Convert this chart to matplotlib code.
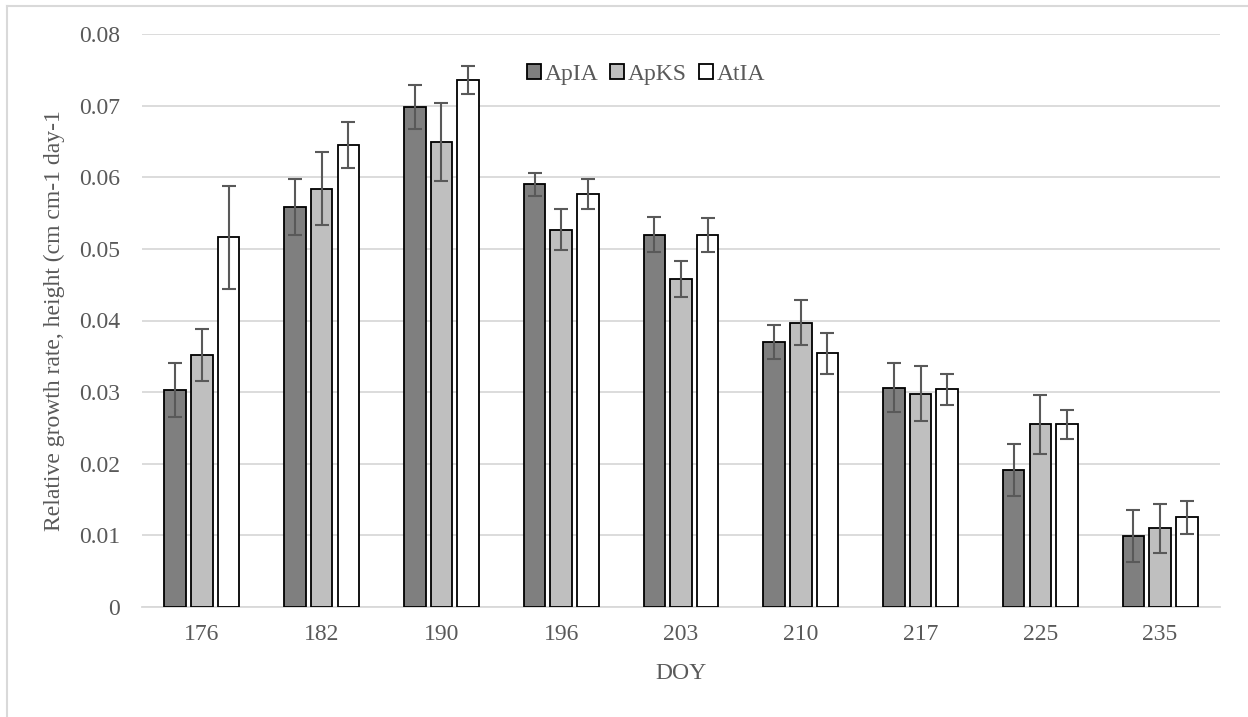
import numpy as np
import matplotlib
matplotlib.use("Agg")
import matplotlib.pyplot as plt
from matplotlib.lines import Line2D

# Day of year for each sampling date
doy = ["176", "182", "190", "196", "203", "210", "217", "225", "235"]

# Relative growth rate (height) per population
apia = [0.0303, 0.0559, 0.0698, 0.0590, 0.0520, 0.0370, 0.0306, 0.0191, 0.0099]
apks = [0.0352, 0.0584, 0.0649, 0.0527, 0.0458, 0.0397, 0.0298, 0.0255, 0.0110]
atia = [0.0516, 0.0645, 0.0736, 0.0576, 0.0519, 0.0354, 0.0304, 0.0255, 0.0125]

# Standard errors
apia_err = [0.0038, 0.0039, 0.0031, 0.0016, 0.0024, 0.0024, 0.0034, 0.0036, 0.0036]
apks_err = [0.0036, 0.0051, 0.0054, 0.0028, 0.0025, 0.0031, 0.0039, 0.0041, 0.0034]
atia_err = [0.0072, 0.0032, 0.0020, 0.0021, 0.0024, 0.0029, 0.0022, 0.0020, 0.0023]

series_names = ["ApIA", "ApKS", "AtIA"]
series_vals = [apia, apks, atia]
series_errs = [apia_err, apks_err, atia_err]
series_colors = ["#7f7f7f", "#bfbfbf", "#ffffff"]

plt.rcParams["font.family"] = ["Liberation Serif", "DejaVu Serif"]
text_color = "#595959"
fs = 17

fig = plt.figure(figsize=(12.48, 7.17), dpi=100)
ax = fig.add_axes([142 / 1248, 1 - 607 / 717, 1078 / 1248, 573 / 717])

x = np.arange(len(doy))
width = 0.18
step = 0.223
for i, (name, vals, errs, col) in enumerate(zip(series_names, series_vals, series_errs, series_colors)):
    pos = x + (i - 1) * step
    ax.bar(pos, vals, width=width, color=col, edgecolor="black", linewidth=1.3,
           label=name, zorder=3)
    ax.errorbar(pos, vals, yerr=errs, fmt="none", ecolor="#595959",
                elinewidth=1.5, capsize=5, capthick=1.5, zorder=4)

ax.set_xlim(-0.5, len(doy) - 0.5)
ax.set_ylim(0, 0.08)
ax.set_yticks(np.arange(0, 0.081, 0.01))
ax.set_yticklabels(["0"] + [f"{v:.2f}" for v in np.arange(0.01, 0.081, 0.01)])
ax.set_xticks(x)
ax.set_xticklabels(doy)

ax.yaxis.grid(True, color="#d9d9d9", linewidth=1.3, zorder=0)
ax.set_axisbelow(True)
for side in ["top", "right", "left"]:
    ax.spines[side].set_visible(False)
ax.spines["bottom"].set_color("#d9d9d9")
ax.spines["bottom"].set_linewidth(1.3)
ax.tick_params(axis="both", length=0, labelsize=fs, labelcolor=text_color)
ax.tick_params(axis="y", pad=16)
ax.tick_params(axis="x", pad=12)

ax.set_xlabel("DOY", fontsize=fs, color=text_color, labelpad=13)
ax.set_ylabel("Relative growth rate, height (cm cm-1 day-1", fontsize=fs,
              color=text_color, labelpad=10)

leg = ax.legend(loc="center", bbox_to_anchor=(0.4675, 0.929), ncol=3,
                frameon=False, fontsize=fs, handlelength=0.6, handleheight=0.6,
                handletextpad=0.15, columnspacing=0.5, borderaxespad=0)
for t in leg.get_texts():
    t.set_color(text_color)

# Chart-area border
fig.add_artist(Line2D([7 / 1248, 7 / 1248], [0, 1 - 5.5 / 717],
                      transform=fig.transFigure, color="#d9d9d9", linewidth=1.5))
fig.add_artist(Line2D([7 / 1248, 1], [1 - 5.5 / 717, 1 - 5.5 / 717],
                      transform=fig.transFigure, color="#d9d9d9", linewidth=1.5))

fig.savefig("out.png", dpi=100)
